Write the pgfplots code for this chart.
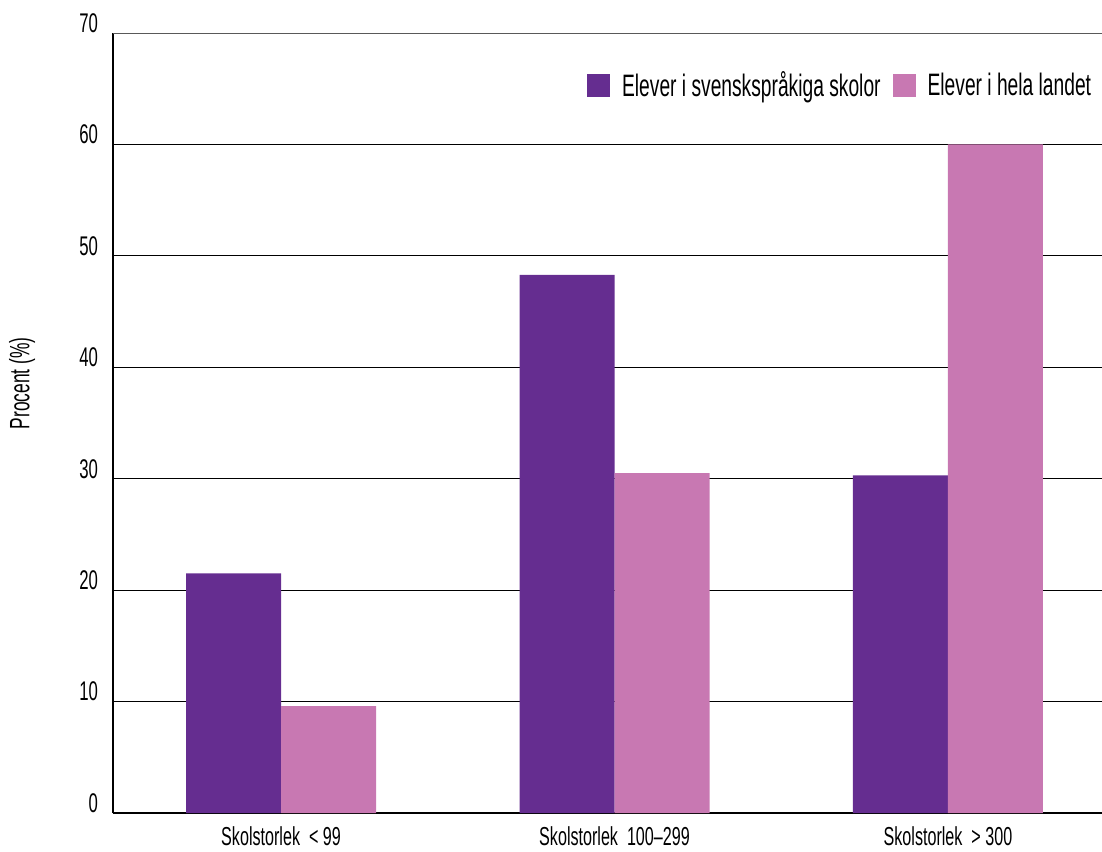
\documentclass[border=0pt]{standalone}
\usepackage{pgfplots}
\pgfplotsset{compat=1.18}
\usepackage{fontspec}
\setmainfont[FakeStretch=0.62]{Liberation Sans}
\definecolor{lila}{HTML}{652D90}
\definecolor{rosa}{HTML}{C878B2}
\begin{document}
\begin{tikzpicture}
\begin{axis}[
    at={(0,0)}, anchor=south west,
    scale only axis, width=494.5pt, height=390pt,
    xmin=-0.504, xmax=2.462,
    ymin=0, ymax=70,
    ybar,
    xtick={0,1,2},
    xticklabels={Skolstorlek\ \ < 99, Skolstorlek\ \ 100–299, Skolstorlek\ \ > 300},
    ytick={0,10,...,70},
    axis x line*=bottom, axis y line*=left,
    axis line style={line width=0.8pt, black},
    tick style={draw=none},
    ymajorgrids=true,
    grid style={black, line width=0.5pt},
    /pgf/number format/assume math mode=true,
    yticklabel style={font=\fontsize{13.5}{15}\selectfont, yshift=5pt, xshift=-4pt},
    xticklabel style={font=\fontsize{13}{15}\selectfont, inner sep=1pt, yshift=-1.2pt},
    ylabel={Procent (\%)},
    every axis y label/.style={at={(axis description cs:-0.092,0.551)}, rotate=90, anchor=center, font=\fontsize{14}{16}\selectfont},
    legend columns=2,
    legend image code/.code={\fill[#1] (0pt,-5.75pt) rectangle (11.5pt,5.75pt);},
    legend style={draw=none, fill=none, inner sep=0pt, at={(rel axis cs:0.479,0.933)}, anchor=west,
        font=\fontsize{15.5}{17}\selectfont,
        /tikz/every odd column/.append style={column sep=4pt},
        /tikz/every even column/.append style={column sep=4pt}},
]
\addplot[fill=lila, draw=none, bar width=47.5pt, bar shift=-23.75pt]
    coordinates {(0,21.5) (1,48.3) (2,30.3)};
\addplot[fill=rosa, draw=none, bar width=47.5pt, bar shift=23.75pt]
    coordinates {(0,9.6) (1,30.5) (2,60.0)};
\legend{Elever i svenskspråkiga skolor, Elever i hela landet}
\draw[black!65, line width=0.6pt] (axis cs:-0.504,70) -- (axis cs:2.462,70);
\end{axis}
\pgfresetboundingbox
\path[use as bounding box] (-56.5pt,-19pt) rectangle (494.5pt,406.5pt);
\end{tikzpicture}
\end{document}
